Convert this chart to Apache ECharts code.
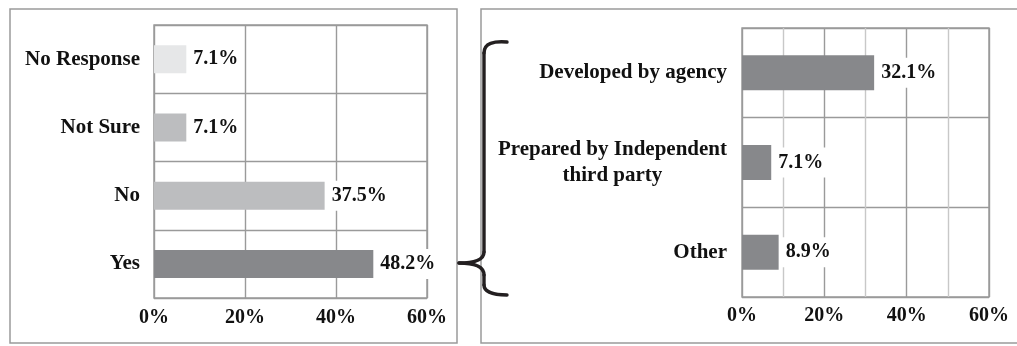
<!DOCTYPE html>
<html>
<head>
<meta charset="utf-8">
<script src="https://cdn.jsdelivr.net/npm/echarts@6/dist/echarts.min.js"></script>
<style>
  html, body { margin: 0; padding: 0; background: #fff; }
  #chart { width: 1017px; height: 346px; }
</style>
</head>
<body>
<div id="chart"></div>
<script>
// Survey responses (percent), listed top to bottom
const responseCategories = ['No Response', 'Not Sure', 'No', 'Yes'];
const responseValues = [7.1, 7.1, 37.5, 48.2];

// Breakdown of the "Yes" answers (percent), listed top to bottom
const sourceCategories = ['Developed by agency', 'Prepared by Independent\nthird party', 'Other'];
const sourceValues = [32.1, 7.1, 8.9];

// Shared value-axis range
const axisMin = 0;
const axisMax = 60;

const responseColors = ['#e6e7e8', '#bcbdbf', '#bcbdbf', '#87888b'];
const sourceColor = '#87888b';

const FONT = '"Liberation Serif", "Times New Roman", serif';
const GRID_LINE = '#9a9a9a';

function valueLabel() {
  return {
    show: true,
    position: 'right',
    distance: 2,
    formatter: '{c}%',
    fontFamily: FONT,
    fontWeight: 'bold',
    fontSize: 20,
    lineHeight: 20,
    color: '#111',
    backgroundColor: '#fff',
    padding: [5, 5, 5, 5]
  };
}

// Curly brace pieces (decoration between the two panels)
const braceStyle = { stroke: '#231f20', lineWidth: 3.4, fill: 'none', lineCap: 'round' };
function braceCurve(x1, y1, cpx1, cpy1, cpx2, cpy2, x2, y2) {
  return { type: 'bezierCurve', silent: true, z: 10,
    shape: { x1, y1, cpx1, cpy1, cpx2, cpy2, x2, y2 }, style: braceStyle };
}
function braceLine(x1, y1, x2, y2) {
  return { type: 'line', silent: true, z: 10, shape: { x1, y1, x2, y2 }, style: braceStyle };
}

const chart = echarts.init(document.getElementById('chart'), null, { renderer: 'canvas' });

chart.setOption({
  animation: false,
  backgroundColor: '#fff',
  grid: [
    { left: 154, right: 590, top: 25, bottom: 48, show: true, borderColor: GRID_LINE, borderWidth: 1.4 },
    { left: 742, right: 28, top: 28, bottom: 49, show: true, borderColor: GRID_LINE, borderWidth: 1.4 }
  ],
  xAxis: [
    {
      gridIndex: 0, type: 'value', min: axisMin, max: axisMax, interval: 20,
      axisLine: { show: false }, axisTick: { show: false },
      splitLine: { show: true, lineStyle: { color: GRID_LINE, width: 1.4 } },
      axisLabel: { formatter: '{value}%', margin: 10, fontFamily: FONT, fontWeight: 'bold', fontSize: 20, color: '#111' }
    },
    {
      gridIndex: 1, type: 'value', min: axisMin, max: axisMax, interval: 10,
      axisLine: { show: false }, axisTick: { show: false },
      splitLine: { show: true, lineStyle: { color: [GRID_LINE, '#c8c8c8'], width: 1.4 } },
      axisLabel: {
        formatter: v => (v % 20 === 0 ? v + '%' : ''),
        margin: 9, fontFamily: FONT, fontWeight: 'bold', fontSize: 20, color: '#111'
      }
    }
  ],
  yAxis: [
    {
      gridIndex: 0, type: 'category', inverse: true, data: responseCategories,
      axisLine: { show: false }, axisTick: { show: false },
      splitLine: { show: true, lineStyle: { color: GRID_LINE, width: 1.4 } },
      axisLabel: { margin: 14, fontFamily: FONT, fontWeight: 'bold', fontSize: 21, color: '#111' }
    },
    {
      gridIndex: 1, type: 'category', inverse: true, data: sourceCategories,
      axisLine: { show: false }, axisTick: { show: false },
      splitLine: { show: true, lineStyle: { color: GRID_LINE, width: 1.4 } },
      axisLabel: {
        margin: 15,
        formatter: v => v.split('\n').map(s => '{c|' + s + '}').join('\n'),
        rich: {
          c: { align: 'center', fontFamily: FONT, fontWeight: 'bold', fontSize: 21, lineHeight: 26, color: '#111' }
        }
      }
    }
  ],
  series: [
    {
      type: 'bar', xAxisIndex: 0, yAxisIndex: 0, barWidth: 28,
      data: responseValues,
      itemStyle: { color: p => responseColors[p.dataIndex] },
      label: valueLabel(),
      z: 3
    },
    {
      type: 'bar', xAxisIndex: 1, yAxisIndex: 1, barWidth: 35,
      data: sourceValues,
      itemStyle: { color: sourceColor },
      label: valueLabel(),
      z: 3
    }
  ],
  graphic: [
    { type: 'rect', silent: true, z: 0, shape: { x: 10, y: 9, width: 447, height: 334 },
      style: { fill: 'none', stroke: '#9a9a9a', lineWidth: 1.5 } },
    { type: 'rect', silent: true, z: 0, shape: { x: 481, y: 9, width: 540, height: 334 },
      style: { fill: 'none', stroke: '#9a9a9a', lineWidth: 1.5 } },
    braceCurve(507, 42, 494, 41, 484, 43, 484, 53),
    braceLine(484, 53, 484, 252),
    braceCurve(484, 252, 484, 259, 477, 263, 459, 263),
    braceCurve(459, 263, 477, 263, 484, 267, 484, 275),
    braceLine(484, 275, 484, 285),
    braceCurve(484, 285, 484, 292, 494, 295, 507, 295)
  ]
});
</script>
</body>
</html>
